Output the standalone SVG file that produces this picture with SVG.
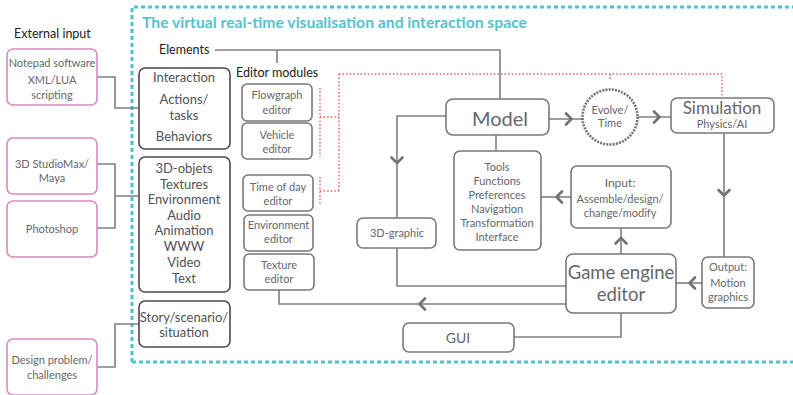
<svg xmlns="http://www.w3.org/2000/svg" width="793" height="395" viewBox="0 0 793 395">
  <style>
    text { font-family: Lato, "Open Sans", "Liberation Sans", sans-serif; fill: #64676b; text-anchor: middle; }
    .lbl { fill: #222; text-anchor: start; font-size: 12.5px; }
    .title { fill: #55c3cd; font-weight: bold; font-size: 15.5px; text-anchor: start; }
    .ext { fill: none; stroke: #d58ac4; stroke-width: 1.6; }
    .elem { fill: none; stroke: #4a4a4a; stroke-width: 1.6; }
    .elem-t { fill: #4f5256; }
    .box { fill: none; stroke: #75787c; stroke-width: 1.6; }
    .wire { fill: none; stroke: #7d8084; stroke-width: 1.6; }
    .chev { fill: none; stroke: #6f7276; stroke-width: 2.6; stroke-linecap: round; stroke-linejoin: round; }
    .dots { fill: none; stroke: #e8505b; stroke-width: 1.4; stroke-dasharray: 1.4 2.2; }
    .space { fill: none; stroke: #4fc4cf; stroke-width: 3; stroke-dasharray: 4 3; }
    .t11 { font-size: 11px; }
    .t12 { font-size: 12px; }
    .t13 { font-size: 13px; }
  </style>

  <!-- interaction space frame -->
  <g id="space">
    <path class="space" d="M132,362 V7 H800 M132,362 H800"/>
    <text class="title" x="142" y="28" textLength="385" lengthAdjust="spacingAndGlyphs">The virtual real-time visualisation and interaction space</text>
  </g>

  <text class="lbl" x="14" y="38">External input</text>
  <text class="lbl" x="159" y="54">Elements</text>
  <text class="lbl" x="236" y="77">Editor modules</text>

  <!-- connectors -->
  <g id="connectors">
    <!-- external input to elements -->
    <path class="wire" d="M97,77 H115 V108 H139"/>
    <path class="wire" d="M97,164 H115 V228 H97 M115,196 H139"/>
    <path class="wire" d="M97,367 H115 V324 H139"/>
    <!-- elements bus -->
    <path class="wire" d="M215,50 H500 V99 M277,50 V63"/>
    <!-- model branches -->
    <path class="wire" d="M446,116 H397 V218"/>
    <path class="chev" d="M391.5,157.5 L397,163 L402.5,157.5"/>
    <path class="wire" d="M397,248 V286 H566"/>
    <path class="wire" d="M496,135 V151"/>
    <path class="wire" d="M549,119 H582"/>
    <path class="chev" d="M566,113.5 L571.5,119 L566,124.5"/>
    <path class="wire" d="M638,117 H671"/>
    <path class="chev" d="M654,111.5 L659.5,117 L654,122.5"/>
    <!-- simulation to output -->
    <path class="wire" d="M724,133 V257"/>
    <path class="chev" d="M718.5,190 L724,195.5 L729.5,190"/>
    <!-- output to game engine -->
    <path class="wire" d="M702,283 H676"/>
    <path class="chev" d="M695,277.5 L689.5,283 L695,288.5"/>
    <!-- game engine to input -->
    <path class="wire" d="M621,254 V228"/>
    <path class="chev" d="M615.5,243.5 L621,238 L626.5,243.5"/>
    <!-- input to tools -->
    <path class="wire" d="M571,197 H541"/>
    <path class="chev" d="M562,191.5 L556.5,197 L562,202.5"/>
    <!-- game engine to texture editor -->
    <path class="wire" d="M566,304 H279 V290"/>
    <path class="chev" d="M425,298.5 L419.5,304 L425,309.5"/>
    <!-- GUI -->
    <path class="wire" d="M514,337 H621 V313"/>
    <!-- editor module links -->
    <path class="dots" d="M320,88 V157 M320,117 H339 M339,74 V191 M320,177 V204 M320,191 H339"/>
    <path class="dots" d="M339,74 H722 V97 M610,74 V80"/>
  </g>

  <!-- external input -->
  <g id="ext-notepad">
    <rect class="ext" x="7" y="49" width="90" height="56" rx="6"/>
    <text class="t11" x="52" y="67">Notepad software</text>
    <text class="t11" x="52" y="84">XML/LUA</text>
    <text class="t11" x="52" y="99">scripting</text>
  </g>
  <g id="ext-studiomax">
    <rect class="ext" x="7" y="138" width="90" height="56" rx="6"/>
    <text class="t11" x="52" y="168">3D StudioMax/</text>
    <text class="t11" x="52" y="182">Maya</text>
  </g>
  <g id="ext-photoshop">
    <rect class="ext" x="7" y="201" width="90" height="56" rx="6"/>
    <text class="t11" x="52" y="233">Photoshop</text>
  </g>
  <g id="ext-design">
    <rect class="ext" x="7" y="339" width="90" height="56" rx="6"/>
    <text class="t11" x="52" y="364">Design problem/</text>
    <text class="t11" x="52" y="379">challenges</text>
  </g>

  <!-- elements -->
  <g id="el-interaction">
    <rect class="elem" x="139" y="68" width="91" height="81" rx="6"/>
    <text class="t13 elem-t" x="184" y="82">Interaction</text>
    <text class="t13 elem-t" x="184" y="104">Actions/</text>
    <text class="t13 elem-t" x="184" y="120">tasks</text>
    <text class="t13 elem-t" x="184" y="141">Behaviors</text>
  </g>
  <g id="el-media">
    <rect class="elem" x="139" y="157" width="91" height="135" rx="6"/>
    <text class="t13 elem-t" x="184" y="173">3D-objets</text>
    <text class="t13 elem-t" x="184" y="189">Textures</text>
    <text class="t13 elem-t" x="184" y="204">Environment</text>
    <text class="t13 elem-t" x="184" y="220">Audio</text>
    <text class="t13 elem-t" x="184" y="235">Animation</text>
    <text class="t13 elem-t" x="184" y="251">WWW</text>
    <text class="t13 elem-t" x="184" y="267">Video</text>
    <text class="t13 elem-t" x="184" y="283">Text</text>
  </g>
  <g id="el-story">
    <rect class="elem" x="139" y="301" width="91" height="46" rx="6"/>
    <text class="t13 elem-t" x="184" y="322">Story/scenario/</text>
    <text class="t13 elem-t" x="184" y="337">situation</text>
  </g>

  <!-- editor modules -->
  <g id="ed-flowgraph">
    <rect class="box" x="242" y="84" width="70" height="37" rx="5"/>
    <text class="t11" x="277" y="99">Flowgraph</text>
    <text class="t11" x="277" y="114">editor</text>
  </g>
  <g id="ed-vehicle">
    <rect class="box" x="242" y="123" width="70" height="36" rx="5"/>
    <text class="t11" x="277" y="139">Vehicle</text>
    <text class="t11" x="277" y="153">editor</text>
  </g>
  <g id="ed-timeofday">
    <rect class="box" x="243" y="175" width="70" height="36" rx="5"/>
    <text class="t11" x="278" y="191">Time of day</text>
    <text class="t11" x="278" y="205">editor</text>
  </g>
  <g id="ed-environment">
    <rect class="box" x="244" y="215" width="69" height="36" rx="5"/>
    <text class="t11" x="278.5" y="229">Environment</text>
    <text class="t11" x="278.5" y="243">editor</text>
  </g>
  <g id="ed-texture">
    <rect class="box" x="244" y="254" width="70" height="36" rx="5"/>
    <text class="t11" x="279" y="269">Texture</text>
    <text class="t11" x="279" y="283">editor</text>
  </g>

  <!-- core -->
  <g id="model">
    <rect class="box" x="446" y="99" width="103" height="36" rx="7"/>
    <text x="500" y="126" font-size="20">Model</text>
  </g>
  <g id="graphic3d">
    <rect class="box" x="357" y="218" width="79" height="30" rx="6"/>
    <text class="t11" x="397" y="237">3D-graphic</text>
  </g>
  <g id="tools">
    <rect class="box" x="454" y="151" width="87" height="99" rx="6"/>
    <text class="t11" x="497" y="171">Tools</text>
    <text class="t11" x="497" y="185">Functions</text>
    <text class="t11" x="497" y="199">Preferences</text>
    <text class="t11" x="497" y="213">Navigation</text>
    <text class="t11" x="497" y="227">Transformation</text>
    <text class="t11" x="497" y="241">Interface</text>
  </g>
  <g id="evolve">
    <circle cx="610" cy="117" r="27.5" fill="none" stroke="#6f7276" stroke-width="2.6" stroke-dasharray="2 1.2"/>
    <text class="t11" x="610" y="114">Evolve/</text>
    <text class="t11" x="610" y="127">Time</text>
  </g>
  <g id="simulation">
    <rect class="box" x="671" y="98" width="103" height="35" rx="6"/>
    <text x="722" y="114" font-size="17">Simulation</text>
    <text class="t11" x="722" y="128">Physics/AI</text>
  </g>
  <g id="input">
    <rect class="box" x="571" y="166" width="100" height="62" rx="6"/>
    <text class="t12" x="620" y="187">Input:</text>
    <text class="t11" x="620" y="203">Assemble/design/</text>
    <text class="t11" x="620" y="217">change/modify</text>
  </g>
  <g id="game-engine">
    <rect class="box" x="566" y="254" width="110" height="59" rx="7"/>
    <text x="621" y="279" font-size="18.5">Game engine</text>
    <text x="621" y="301" font-size="18.5">editor</text>
  </g>
  <g id="output">
    <rect class="box" x="702" y="257" width="52" height="51" rx="6"/>
    <text class="t11" x="728" y="271">Output:</text>
    <text class="t11" x="728" y="287">Motion</text>
    <text class="t11" x="728" y="301">graphics</text>
  </g>
  <g id="gui">
    <rect class="box" x="403" y="323" width="111" height="29" rx="6"/>
    <text x="458" y="343" font-size="14">GUI</text>
  </g>
</svg>
